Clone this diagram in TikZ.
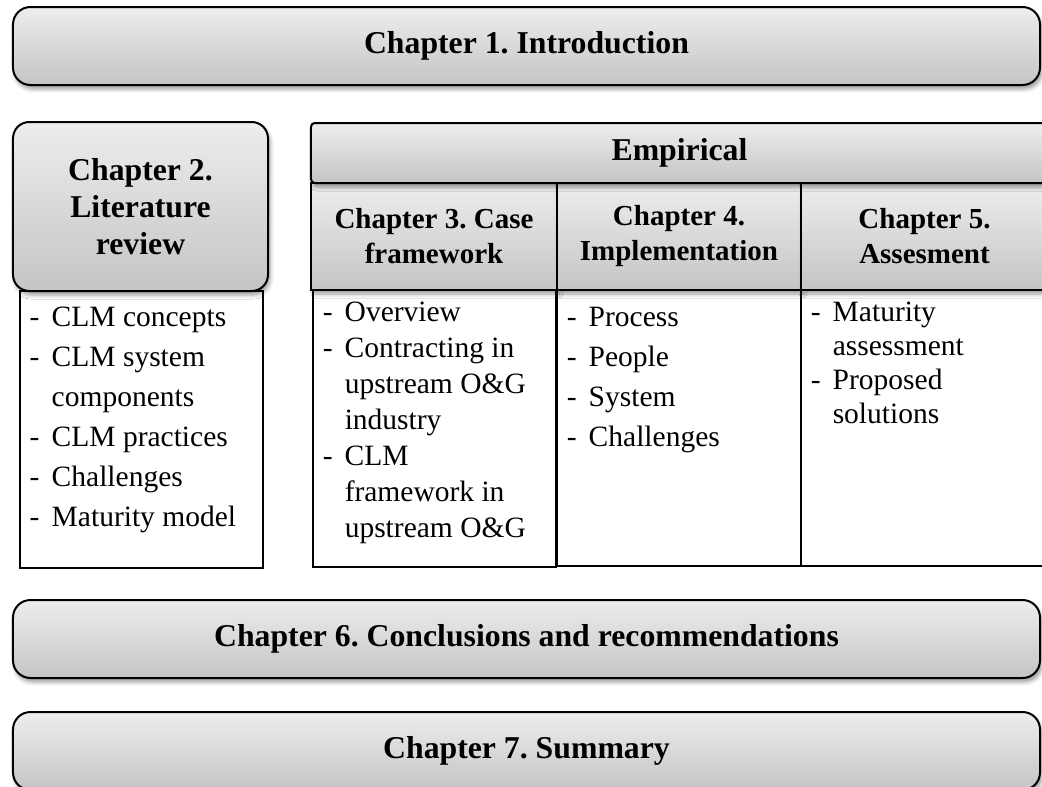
\documentclass[tikz,border=0pt]{standalone}
\usepackage{fontspec}
\setmainfont{Liberation Serif}
\usetikzlibrary{positioning,shadows.blur}

\tikzset{
  chapbox/.style={draw, line width=0.8pt, rounded corners=7pt, top color=gray!14, bottom color=gray!46,
    blur shadow={shadow xshift=0.8pt, shadow yshift=-1.6pt, shadow blur radius=1.6pt, shadow opacity=40},
    font=\fontsize{12.7}{14.8}\selectfont\bfseries, align=center, inner sep=0pt},
  cellhead/.style={chapbox, rounded corners=0pt, font=\fontsize{11.6}{14}\selectfont\bfseries},
  listbox/.style={draw, line width=0.6pt, fill=white, inner sep=0pt},
  listtext/.style={align=left, inner sep=0pt, anchor=north west, font=\fontsize{11.8}{16}\selectfont},
}
\newcommand{\itm}{\makebox[8.8pt][l]{-}}
\newcommand{\cnt}{\hspace*{8.8pt}}

\begin{document}
\frenchspacing
\begin{tikzpicture}[x=0.4pt, y=-0.4pt]
    \clip (0,0) rectangle (1042,787);

    \node [chapbox, minimum width=410.8pt, minimum height=31.2pt] (ch1) at (526.5,46) {Chapter 1. Introduction};

    % lists under the headers
    \node [listbox, minimum width=97.2pt, minimum height=110.8pt] (ch2list) at (141.5,429.5) {};
    \node [listbox, minimum width=97.2pt, minimum height=110.8pt] (ch3list) at (434.5,428.5) {};
    \node [listbox, minimum width=97.6pt, minimum height=110.4pt] (ch4list) at (679,428) {};
    \node [listbox, minimum width=98.8pt, minimum height=110.4pt] (ch5list) at (924.5,428) {};

    \node [cellhead, minimum width=98.4pt, minimum height=42.8pt] (ch3head) at (434,236.5) {Chapter 3. Case\\framework};
    \node [cellhead, minimum width=97.6pt, minimum height=42.8pt] (ch4head) at (679,236.5) {Chapter 4.\\Implementation};
    \node [cellhead, minimum width=98.8pt, minimum height=42.8pt] (ch5head) at (924.5,236.5) {Chapter 5.\\Assesment};
    \node [chapbox, rounded corners=1.5pt, minimum width=294.8pt, minimum height=24pt] (empirical) at (679.5,153) {Empirical};
    \node [chapbox, rounded corners=6.5pt, minimum width=102pt, minimum height=67.6pt] (ch2head) at (140.5,206.5) {Chapter 2.\\Literature\\review};

    \node [listtext, below right=6.4pt and 4pt of ch2list.north west] (ch2items)
      {\itm CLM concepts\\ \itm CLM system\\ \cnt components\\ \itm CLM practices\\ \itm Challenges\\ \itm Maturity model};
    \node [listtext, font=\fontsize{11.8}{14.4}\selectfont, below right=4.8pt and 4pt of ch3list.north west] (ch3items)
      {\itm Overview\\ \itm Contracting in\\ \cnt upstream O\&G\\ \cnt industry\\ \itm CLM\\ \cnt framework in\\ \cnt upstream O\&G};
    \node [listtext, below right=6.8pt and 4pt of ch4list.north west] (ch4items)
      {\itm Process\\ \itm People\\ \itm System\\ \itm Challenges};
    \node [listtext, font=\fontsize{11.8}{13.6}\selectfont, below right=4.8pt and 4pt of ch5list.north west] (ch5items)
      {\itm Maturity\\ \cnt assessment\\ \itm Proposed\\ \cnt solutions};

    \node [chapbox, minimum width=410.8pt, minimum height=31.2pt] (ch6) at (526.5,639) {Chapter 6. Conclusions and recommendations};
    \node [chapbox, minimum width=410.8pt, minimum height=31.2pt] (ch7) at (526.5,751) {Chapter 7. Summary};
\end{tikzpicture}
\end{document}
